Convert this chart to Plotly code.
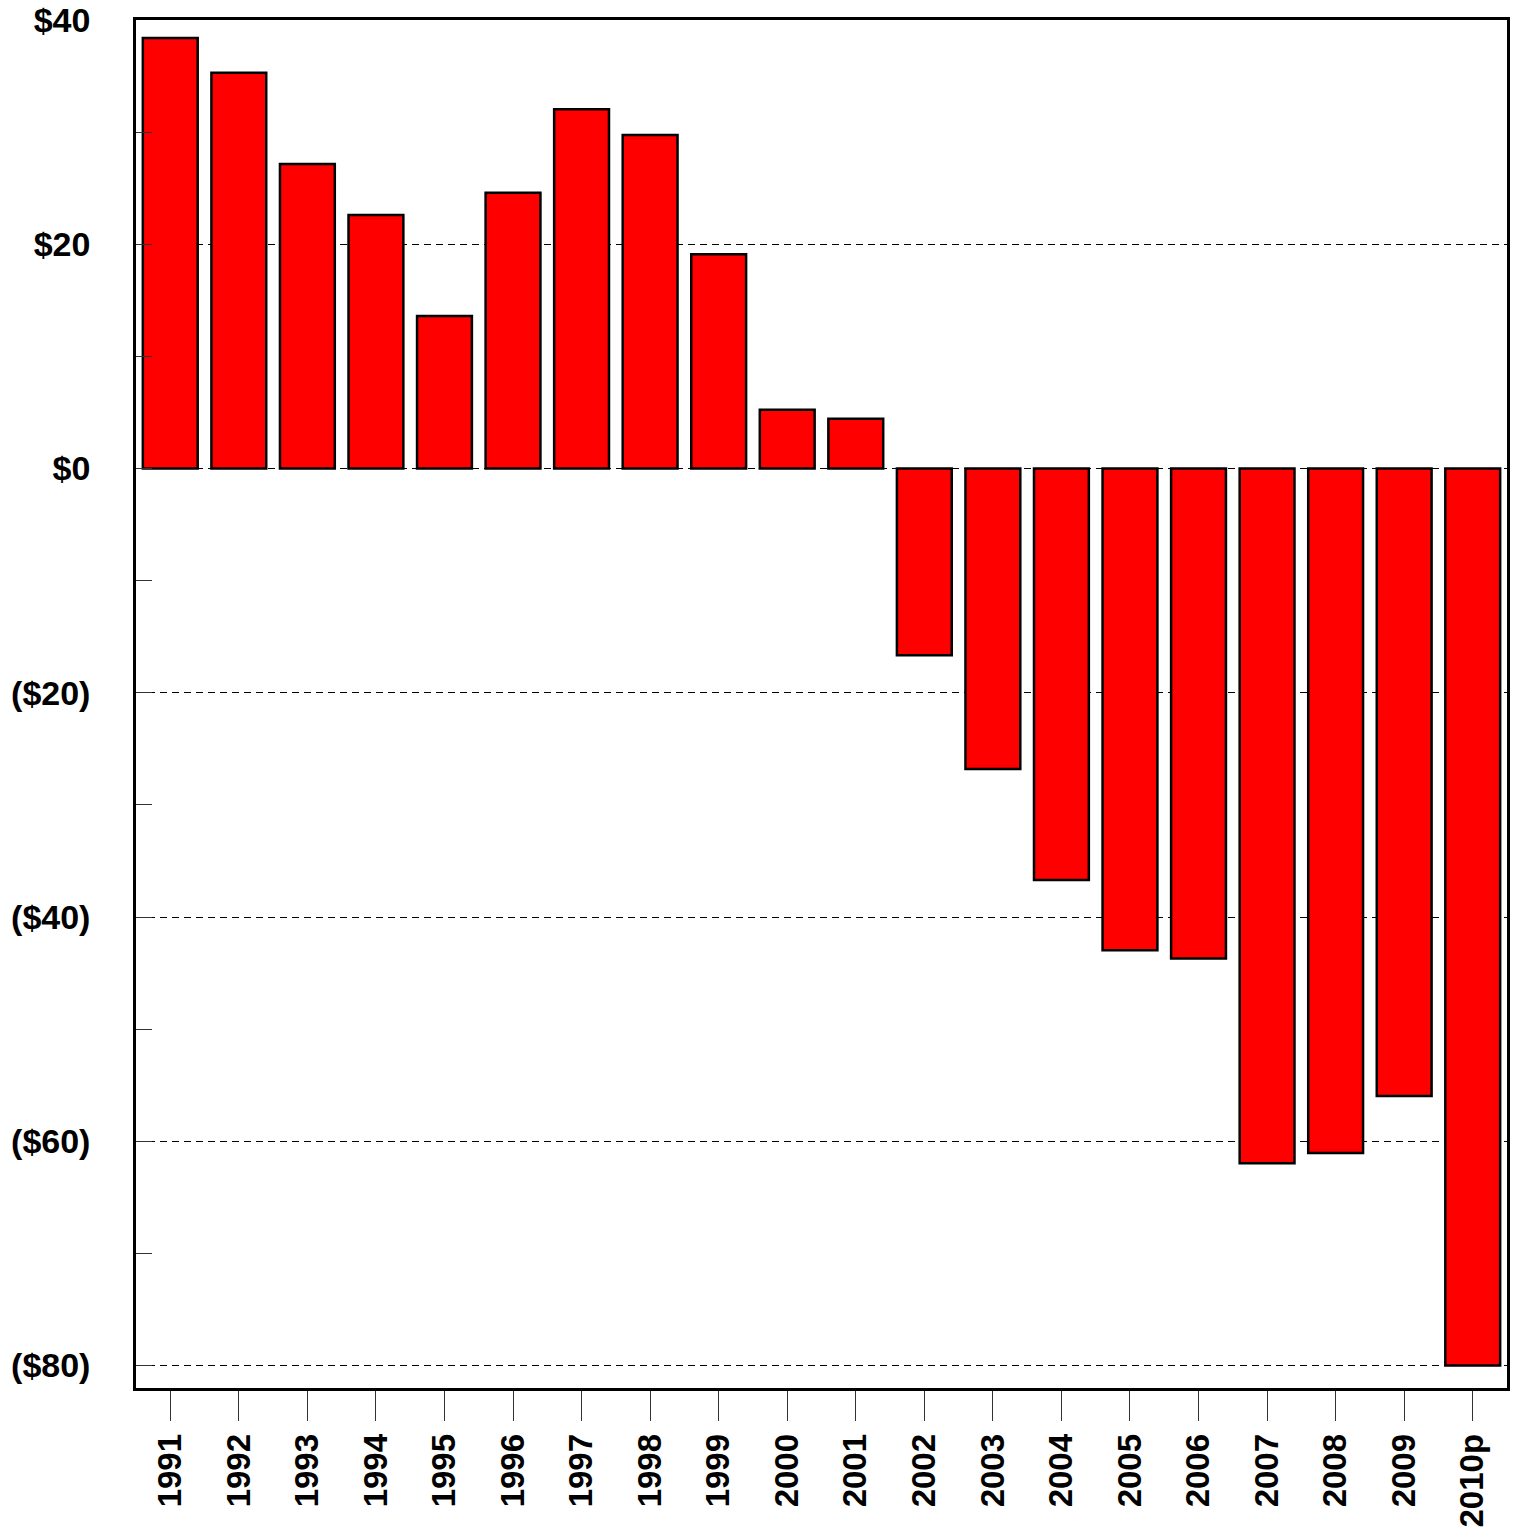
import plotly.graph_objects as go

years = ["1991", "1992", "1993", "1994", "1995", "1996", "1997", "1998", "1999", "2000",
         "2001", "2002", "2003", "2004", "2005", "2006", "2007", "2008", "2009", "2010p"]
values = [38.4, 35.3, 27.15, 22.6, 13.6, 24.6, 32.05, 29.75, 19.1, 5.25,
          4.45, -16.65, -26.8, -36.7, -42.95, -43.7, -61.95, -61.05, -55.95, -80.0]

ytick_vals = [40, 20, 0, -20, -40, -60, -80]
ytick_text = ["$40", "$20", "$0", "($20)", "($40)", "($60)", "($80)"]

fig = go.Figure(
    go.Bar(
        x=years,
        y=values,
        marker=dict(color="#ff0000", line=dict(color="#000000", width=2.5)),
        width=0.8,
    )
)

fig.update_layout(
    template="none",
    width=1517,
    height=1535,
    margin=dict(l=136, r=10, t=20, b=147, autoexpand=False),
    plot_bgcolor="white",
    paper_bgcolor="white",
    showlegend=False,
    font=dict(family="Liberation Sans, Arial, sans-serif", color="black"),
)

fig.update_xaxes(
    type="category",
    range=[-0.5, 19.5],
    automargin=False,
    showline=True,
    linecolor="black",
    linewidth=2.5,
    mirror=True,
    ticks="outside",
    ticklen=30,
    tickwidth=1,
    tickcolor="#333333",
    tickangle=-90,
    tickfont=dict(size=33, weight="bold", family="Liberation Sans, Arial, sans-serif"),
    ticklabelstandoff=0,
    showgrid=False,
    zeroline=False,
)

fig.update_yaxes(
    range=[-82, 40],
    automargin=False,
    tickvals=ytick_vals,
    ticktext=ytick_text,
    showline=True,
    linecolor="black",
    linewidth=2.5,
    mirror=True,
    ticks="inside",
    ticklen=16,
    tickwidth=1,
    tickcolor="#333333",
    tickfont=dict(size=34, weight="bold", family="Liberation Sans, Arial, sans-serif"),
    ticklabelstandoff=36,
    showgrid=True,
    gridcolor="black",
    gridwidth=1,
    griddash="7px,5px",
    zeroline=False,
    minor=dict(dtick=10, ticks="inside", ticklen=16, tickwidth=1, tickcolor="#333333", showgrid=False),
)

fig.write_html(
    "out.html",
    config={"displayModeBar": False},
    post_script="document.body.style.margin='0';document.body.style.overflow='hidden';",
)
